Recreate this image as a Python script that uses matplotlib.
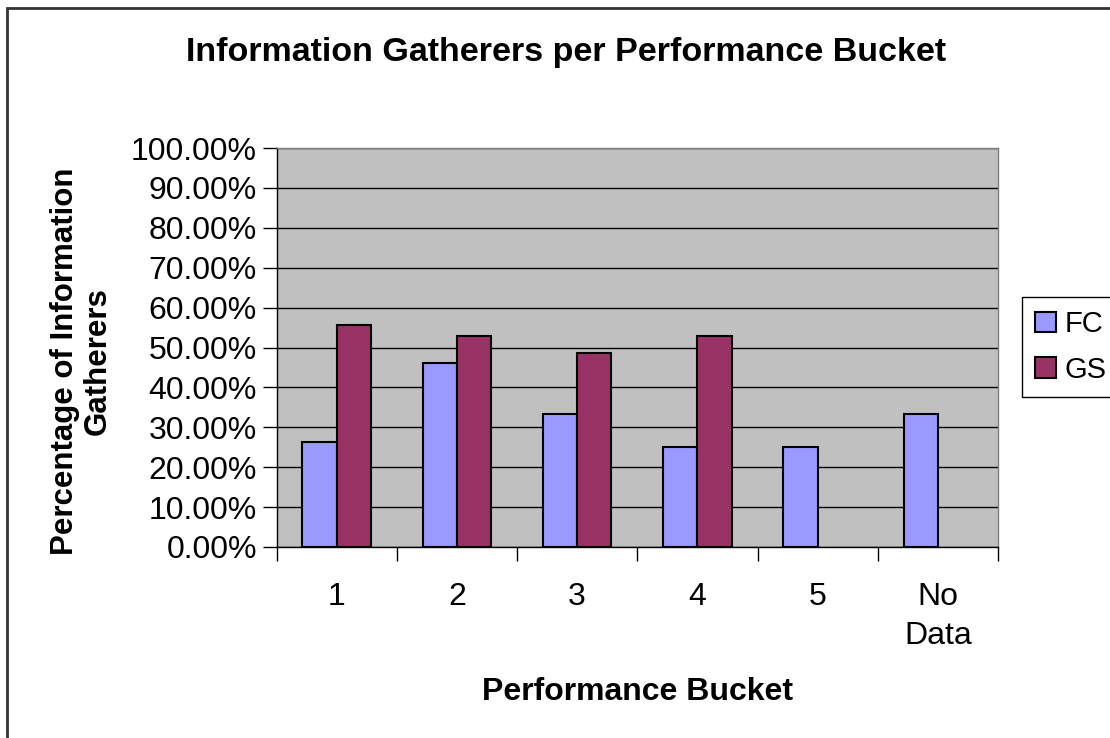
import matplotlib
matplotlib.use("Agg")
import matplotlib.pyplot as plt
import numpy as np
from matplotlib.patches import Rectangle
from matplotlib.ticker import FuncFormatter, MultipleLocator

plt.rcParams["font.family"] = ["Liberation Sans", "DejaVu Sans"]

# chart data (percent)
buckets = ["1", "2", "3", "4", "5", "No\nData"]
fc_values = [26.3, 46.0, 33.3, 25.0, 25.0, 33.3]
gs_values = [55.6, 52.9, 48.7, 52.9, 0.0, 0.0]
series_names = ["FC", "GS"]

W, H = 1110, 738
fig = plt.figure(figsize=(W / 100, H / 100), dpi=100)
fig.patch.set_facecolor("white")

# plot area in pixel coordinates of the reference
left, right, top, bottom = 276.5, 998, 148, 547
ax = fig.add_axes([left / W, 1 - bottom / H, (right - left) / W, (bottom - top) / H])
ax.set_facecolor("#C0C0C0")

x = np.arange(len(buckets))
width = 1 / 3.5
# empty cells draw nothing in the original
fc_plot = np.where(np.array(fc_values) == 0, np.nan, fc_values)
gs_plot = np.where(np.array(gs_values) == 0, np.nan, gs_values)
ax.bar(x - width / 2, fc_plot, width, color="#9999FF", edgecolor="black",
       linewidth=1.5, label=series_names[0], zorder=3)
ax.bar(x + width / 2, gs_plot, width, color="#993366", edgecolor="black",
       linewidth=1.5, label=series_names[1], zorder=3)

ax.set_xlim(-0.5, len(buckets) - 0.5)
ax.set_ylim(0, 100)
ax.yaxis.set_major_locator(MultipleLocator(10))
ax.yaxis.set_major_formatter(FuncFormatter(lambda v, p: f"{v:.2f}%"))
ax.grid(True, axis="y", color="black", linewidth=1, zorder=1)
ax.set_axisbelow(True)

ax.set_xticks(x)
ax.set_xticklabels(buckets)
ax.set_xticks(np.arange(len(buckets) + 1) - 0.5, minor=True)
ax.tick_params(axis="x", which="major", length=0, pad=25, labelsize=23)
ax.tick_params(axis="x", which="minor", length=10, width=1, color="black")
ax.tick_params(axis="y", length=10, width=1, color="black", pad=4, labelsize=23)
for lab in ax.get_xticklabels():
    lab.set_linespacing(1.4)

for side in ["top", "right"]:
    ax.spines[side].set_color("#808080")
    ax.spines[side].set_linewidth(1)
for side in ["left", "bottom"]:
    ax.spines[side].set_color("black")
    ax.spines[side].set_linewidth(1)

fig.text(566 / W, 1 - 52 / H, "Information Gatherers per Performance Bucket",
         ha="center", va="center", fontsize=24.5, fontweight="bold")
fig.text(638 / W, 1 - 692 / H, "Performance Bucket",
         ha="center", va="center", fontsize=23, fontweight="bold")
fig.text(81 / W, 1 - 361 / H, "Percentage of Information\nGatherers",
         ha="center", va="center", rotation=90, fontsize=22.5, fontweight="bold",
         linespacing=1.12)

leg = ax.legend(loc="upper left", bbox_to_anchor=(1022 / W, 1 - 297 / H),
                bbox_transform=fig.transFigure, borderaxespad=0, fontsize=21,
                handlelength=0.7, handleheight=0.7, handletextpad=0.3,
                labelspacing=0.6, borderpad=0.45, fancybox=False,
                framealpha=1, edgecolor="black")
leg.get_frame().set_linewidth(1)

# outer chart border (only top and left visible in the reference)
fig.patches.append(Rectangle((7 / W, -0.1), 1.2, 1.1 - 8 / H, transform=fig.transFigure,
                             fill=False, edgecolor="#333333", linewidth=2))

fig.savefig("out.png", dpi=100)
